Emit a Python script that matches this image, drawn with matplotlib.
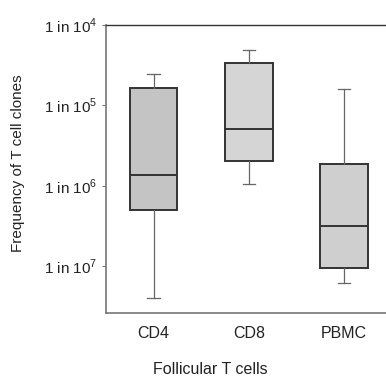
import math
import matplotlib.pyplot as plt
from matplotlib.ticker import FixedLocator, FuncFormatter, NullLocator

plt.rcParams['font.family'] = ['Liberation Sans', 'DejaVu Sans']
plt.rcParams['mathtext.fontset'] = 'custom'
plt.rcParams['mathtext.rm'] = 'Liberation Sans'

# gruppi e statistiche dei box (esponente n di "1 in 10^n")
gruppi = ['CD4', 'CD8', 'PBMC']
whisker_alto = [4.61, 4.31, 4.80]
q3 = [4.785, 4.473, 5.731]
mediana = [5.868, 5.295, 6.503]
q1 = [6.304, 5.694, 7.026]
whisker_basso = [7.40, 5.98, 7.213]
colori = ['#c4c4c4', '#d5d5d5', '#cfcfcf']
esponenti_tick = [4, 5, 6, 7]

stats = []
for i, g in enumerate(gruppi):
    stats.append({
        'label': g,
        'whishi': 10 ** -whisker_alto[i],
        'q3': 10 ** -q3[i],
        'med': 10 ** -mediana[i],
        'q1': 10 ** -q1[i],
        'whislo': 10 ** -whisker_basso[i],
        'fliers': [],
    })

fig = plt.figure(figsize=(3.86, 3.80), dpi=100)
ax = fig.add_axes([106 / 386, 1 - 313 / 380, 285.7 / 386, 288 / 380])

bp = ax.bxp(stats, positions=[1, 2, 3], widths=0.5, patch_artist=True,
            showfliers=False, capwidths=0.13,
            boxprops=dict(edgecolor='#333333', linewidth=1.4),
            medianprops=dict(color='#333333', linewidth=1.4),
            whiskerprops=dict(color='#666666', linewidth=0.9),
            capprops=dict(color='#666666', linewidth=0.9))
for patch, c in zip(bp['boxes'], colori):
    patch.set_facecolor(c)

ax.set_yscale('log')
ax.set_ylim(10 ** -7.585, 1e-4)
ax.set_xlim(0.5, 3.5)
ax.yaxis.set_major_locator(FixedLocator([10 ** -e for e in esponenti_tick]))
ax.yaxis.set_minor_locator(NullLocator())
ax.yaxis.set_major_formatter(FuncFormatter(
    lambda v, p: '1 in 10$^{%d}$' % round(-math.log10(v))))

ax.tick_params(axis='y', length=3, width=0.8, color='#777777', labelsize=11,
               pad=3, labelcolor='#222222')
ax.tick_params(axis='x', length=0, labelsize=11.5, pad=9, labelcolor='#222222')

for lato in ['left', 'bottom']:
    ax.spines[lato].set_color('#777777')
    ax.spines[lato].set_linewidth(1.2)
ax.spines['top'].set_color('#333333')
ax.spines['top'].set_linewidth(1.0)
ax.spines['right'].set_visible(False)

fig.text(18 / 386, 1 - 163.5 / 380, 'Frequency of T cell clones', rotation=90,
         ha='center', va='center', fontsize=11, color='#222222')
fig.text(210 / 386, 1 - 370 / 380, 'Follicular T cells', ha='center', va='center',
         fontsize=11.5, color='#222222')

fig.savefig('out.png', dpi=100)
